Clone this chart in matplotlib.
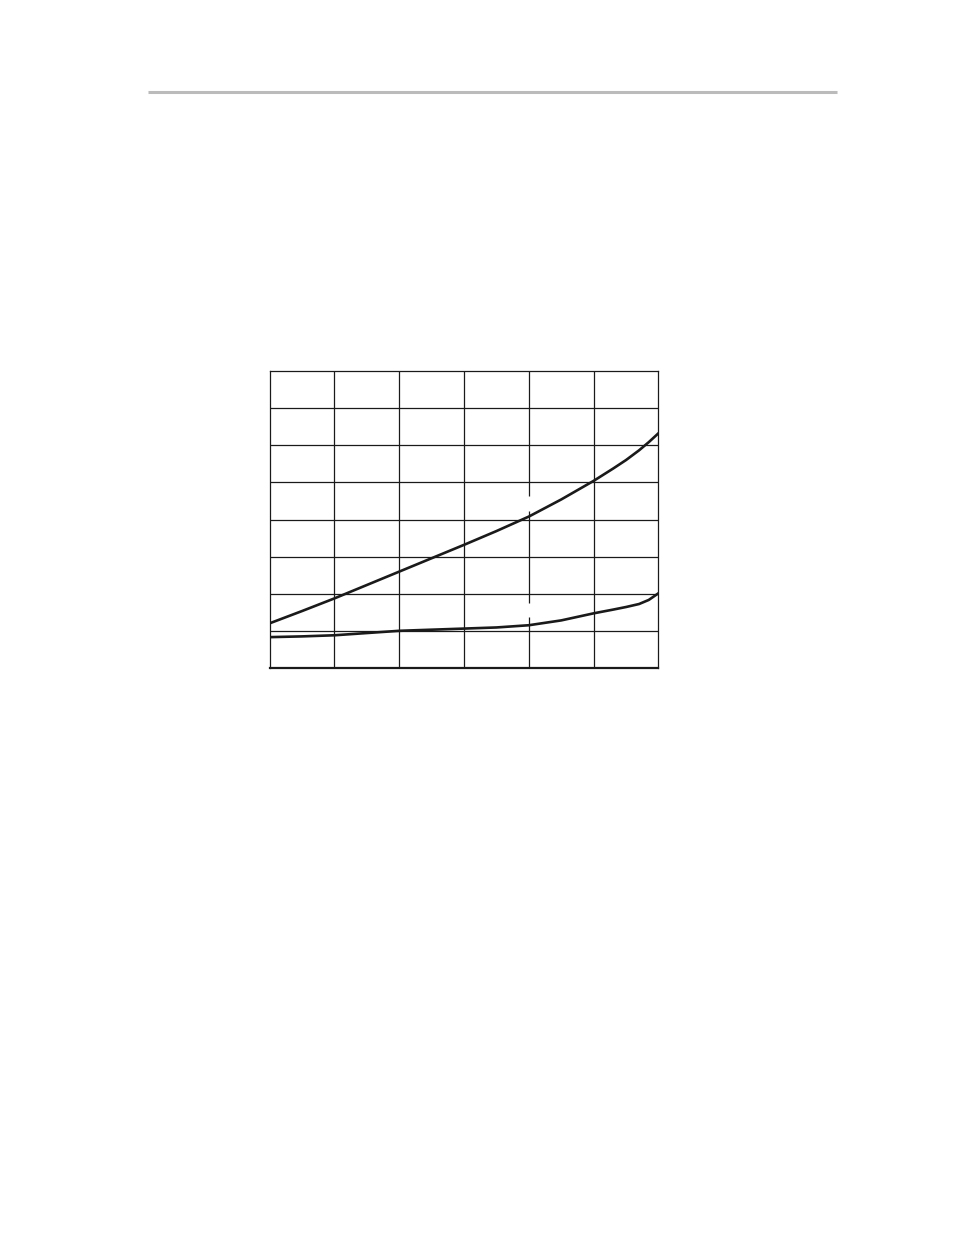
import numpy as np
import matplotlib
matplotlib.use("Agg")
import matplotlib.pyplot as plt
from matplotlib.lines import Line2D

# curve values (x in column units, y in row units)
upper_x = [0.0, 0.5, 1.0, 1.5, 2.0, 2.5, 3.0, 3.5, 4.0, 4.5, 5.0, 5.3, 5.5, 5.7, 5.85, 6.0]
upper_y = [1.21, 1.54, 1.88, 2.24, 2.60, 2.96, 3.32, 3.69, 4.08, 4.54, 5.04, 5.37, 5.60, 5.86, 6.08, 6.32]

lower_x = [0.0, 0.5, 1.0, 1.5, 2.0, 2.5, 3.0, 3.5, 4.0, 4.5, 5.0, 5.3, 5.5, 5.7, 5.85, 6.0]
lower_y = [0.84, 0.86, 0.89, 0.95, 1.01, 1.04, 1.07, 1.10, 1.16, 1.29, 1.48, 1.58, 1.65, 1.73, 1.84, 2.02]

n_cols = 6
n_rows = 8

fig = plt.figure(figsize=(9.54, 12.35), dpi=100)

# gray header rule
fig.add_artist(Line2D([148 / 954, 837 / 954], [1 - 92 / 1235, 1 - 92 / 1235],
                      color="#bbbbbb", lw=2.2, solid_capstyle="butt"))

ax = fig.add_axes([269.5 / 954, 1 - 668.4 / 1235, (658.5 - 269.5) / 954, (668.4 - 370.7) / 1235])
ax.set_xlim(0, n_cols)
ax.set_ylim(0, n_rows)

for i in range(1, n_cols):
    if i == 4:
        # the column line has two small breaks (label gaps)
        for y0, y1 in [(0, 1.39), (1.76, 4.22), (4.62, n_rows)]:
            ax.plot([i, i], [y0, y1], color="#1a1a1a", lw=0.9, solid_capstyle="butt")
    else:
        ax.axvline(i, color="#1a1a1a", lw=0.9)
for j in range(1, n_rows):
    ax.axhline(j, color="#1a1a1a", lw=0.9)

ax.plot(upper_x, upper_y, color="#1a1a1a", lw=1.9, solid_joinstyle="round")
ax.plot(lower_x, lower_y, color="#1a1a1a", lw=1.9, solid_joinstyle="round")

for side in ["left", "right", "top"]:
    ax.spines[side].set_linewidth(0.9)
    ax.spines[side].set_color("#1a1a1a")
ax.spines["bottom"].set_linewidth(1.6)
ax.spines["bottom"].set_color("#1a1a1a")
ax.set_xticks([])
ax.set_yticks([])

fig.savefig("out.png", dpi=100)
